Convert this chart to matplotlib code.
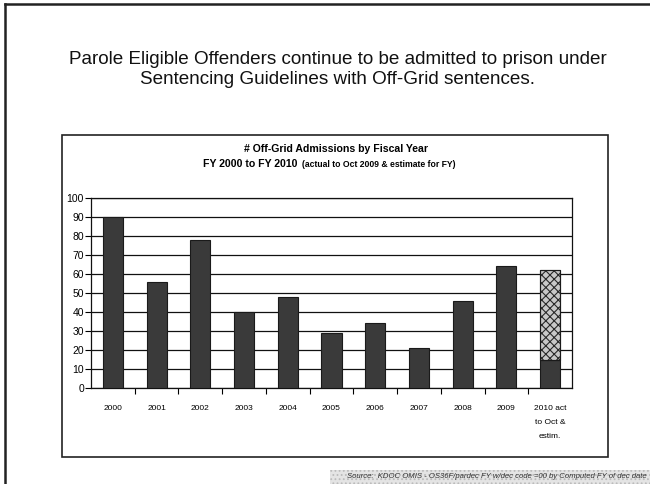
import matplotlib.pyplot as plt
from matplotlib.patches import Rectangle
from matplotlib.lines import Line2D

plt.rcParams['font.family'] = ['Liberation Sans', 'DejaVu Sans']
plt.rcParams['hatch.linewidth'] = 0.8

# data
years = ['2000', '2001', '2002', '2003', '2004', '2005', '2006', '2007', '2008', '2009',
         '2010 act\nto Oct &\nestim.']
admissions = [90, 56, 78, 40, 48, 29, 34, 21, 46, 64, 15]
estimate_2010 = 47  # on top of actual 15 -> 62
yticks = list(range(0, 101, 10))

W, H = 650, 484
fig = plt.figure(figsize=(6.5, 4.84), dpi=100)

def fx(px):
    return px / W

def fy(py):
    return 1 - py / H

# slide frame
fig.add_artist(Line2D([fx(5), 1], [fy(4), fy(4)], color='#222222', lw=1.8))
fig.add_artist(Line2D([fx(5), fx(5)], [fy(4), 0], color='#222222', lw=1.8))

fig.text(0.52, fy(60), 'Parole Eligible Offenders continue to be admitted to prison under',
         ha='center', va='center', fontsize=13.6, color='#111111')
fig.text(0.52, fy(79), 'Sentencing Guidelines with Off-Grid sentences.',
         ha='center', va='center', fontsize=13.6, color='#111111')

# chart box
fig.add_artist(Rectangle((fx(62), fy(457)), fx(608) - fx(62), fy(135) - fy(457),
                         transform=fig.transFigure, fill=False, ec='#222222', lw=1.2))
fig.text(fx(336), fy(149), '# Off-Grid Admissions by Fiscal Year', ha='center', va='center',
         fontsize=7.6, fontweight='bold')
fig.text(fx(203), fy(167), 'FY 2000 to FY 2010', ha='left', va='baseline',
         fontsize=7.6, fontweight='bold')
fig.text(fx(302), fy(167), '(actual to Oct 2009 & estimate for FY)', ha='left', va='baseline',
         fontsize=6.2, fontweight='bold')

ax = fig.add_axes([fx(91), fy(388), fx(572) - fx(91), fy(198) - fy(388)])
x = list(range(len(years)))
ax.bar(x, admissions, width=0.46, color='#3a3a3a', edgecolor='#1a1a1a', lw=0.8, zorder=3)
ax.bar(x[-1], estimate_2010, bottom=admissions[-1], width=0.46, color='#c8c8c8',
       edgecolor='#2a2a2a', hatch='xxxx', lw=0.8, zorder=3)
ax.bar(x[-1], estimate_2010, bottom=admissions[-1], width=0.46, fill=False,
       edgecolor='#1a1a1a', lw=0.8, zorder=4)

ax.set_xlim(-0.5, len(years) - 0.5)
ax.set_ylim(0, 100)
ax.set_yticks(yticks)
ax.tick_params(axis='y', labelsize=7.5, length=4, width=0.8, pad=1)
ax.yaxis.grid(True, color='#111111', lw=0.9, zorder=0)
ax.set_xticks(x)
ax.set_xticklabels(years, fontsize=6, linespacing=2.4, va='top',
                   family=['Liberation Sans Narrow', 'Liberation Sans'])
ax.set_xticks([i + 0.5 for i in x[:-1]], minor=True)
ax.tick_params(axis='x', which='major', length=0, pad=12)
ax.tick_params(axis='x', which='minor', length=4, width=0.8, direction='out')
for s in ax.spines.values():
    s.set_color('#111111')
    s.set_linewidth(0.9)

# source box
fig.add_artist(Rectangle((fx(330), 0), 1 - fx(330), fy(470), transform=fig.transFigure,
                         facecolor='#e4e4e4', edgecolor='#bbbbbb', hatch='....', lw=0))
fig.text(fx(647), fy(477), 'Source:  KDOC OMIS - OS36F/pardec FY w/dec code =00 by Computed FY of dec date',
         ha='right', va='center', fontsize=5.6, style='italic', color='#333333')

fig.savefig('out.png', dpi=100)
